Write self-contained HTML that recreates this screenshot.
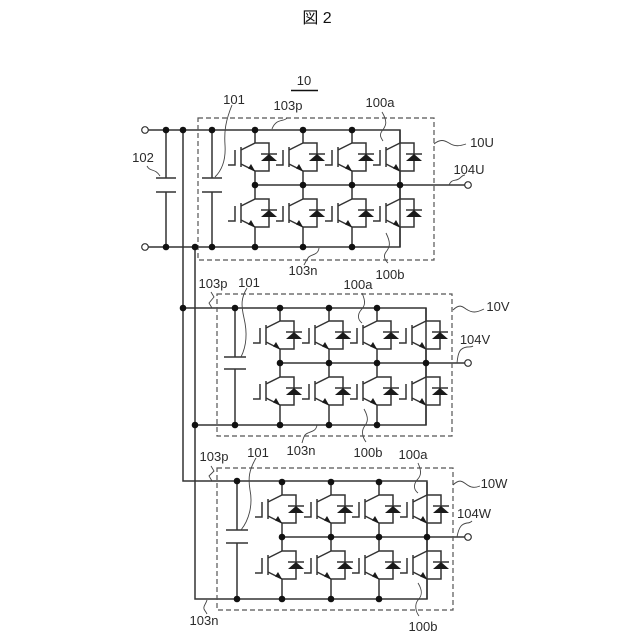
<!DOCTYPE html>
<html><head><meta charset="utf-8"><style>
html,body{margin:0;padding:0;background:#fff}
svg{display:block}
text{font-family:"Liberation Sans","Noto Sans CJK JP",sans-serif;font-size:13px;fill:#2a2a2a;text-anchor:middle}
.w{fill:none;stroke:#333;stroke-width:1.500}
.d{fill:none;stroke:#555;stroke-width:1.200;stroke-dasharray:5 3}
.l{fill:none;stroke:#444;stroke-width:.9}
</style></head><body>
<svg width="640" height="640" viewBox="0 0 640 640" xmlns="http://www.w3.org/2000/svg">
<defs>
<g id="u">
<path class="w" d="M0 -42H14V-14H0M-14 -38V-18M-14 -35L0 -42M-14 -21L0 -14M-27 -20H-20V-35M14 -42V-14M6 -31H22"/>
<path d="M14 -31L22 -24H6Z M0 -14L-7 -16.500L-4 -21Z" fill="#1a1a1a"/>
</g>
<g id="c">
<path class="w" d="M0 -55V-42M0 -14V14M0 42V62"/>
<use href="#u"/><use href="#u" y="56"/>
<circle cy="0" r="3.300" fill="#111"/>
</g>
<g id="t"><circle cy="-55" r="3.300" fill="#111"/><circle cy="62" r="3.300" fill="#111"/></g>
</defs>
<text x="317" y="23" style="font-size:16px;fill:#111">図 2</text>
<text x="304" y="85">10</text>
<path d="M291 90.500H318" stroke="#111" stroke-width="1.500"/>

<!-- Bus lines -->
<path class="w" d="M148 130H400V247H148M166 130V178M166 192V247M156 178H176M156 192H176M212 130V178M212 192V247M202 178H222M202 192H222M255 185H465"/>
<path class="w" d="M183 130V481H427V599H195V247M183 308H426V425H195M235 308V357M235 369V425M224 357H246M224 369H246M280 363H465M237 481V530M237 543V599M226 530H248M226 543H248M282 537H465"/>

<!-- Dashed boxes -->
<rect class="d" x="198" y="118" width="236" height="142"/>
<rect class="d" x="217" y="294" width="235" height="142"/>
<rect class="d" x="217" y="468" width="236" height="142"/>

<!-- Switch columns -->
<use href="#c" x="255" y="185"/><use href="#c" x="303" y="185"/><use href="#c" x="352" y="185"/><use href="#c" x="400" y="185"/>
<use href="#c" x="280" y="363"/><use href="#c" x="329" y="363"/><use href="#c" x="377" y="363"/><use href="#c" x="426" y="363"/>
<use href="#c" x="282" y="537"/><use href="#c" x="331" y="537"/><use href="#c" x="379" y="537"/><use href="#c" x="427" y="537"/>
<use href="#t" x="255" y="185"/><use href="#t" x="303" y="185"/><use href="#t" x="352" y="185"/>
<use href="#t" x="280" y="363"/><use href="#t" x="329" y="363"/><use href="#t" x="377" y="363"/>
<use href="#t" x="282" y="537"/><use href="#t" x="331" y="537"/><use href="#t" x="379" y="537"/>

<!-- Junction dots -->
<g fill="#111">
<circle cx="166" cy="130" r="3.300"/><circle cx="183" cy="130" r="3.300"/><circle cx="212" cy="130" r="3.300"/>
<circle cx="166" cy="247" r="3.300"/><circle cx="195" cy="247" r="3.300"/><circle cx="212" cy="247" r="3.300"/>
<circle cx="183" cy="308" r="3.300"/><circle cx="235" cy="308" r="3.300"/>
<circle cx="195" cy="425" r="3.300"/><circle cx="235" cy="425" r="3.300"/>
<circle cx="237" cy="481" r="3.300"/><circle cx="237" cy="599" r="3.300"/>
</g>

<!-- Terminals -->
<g fill="#fff" stroke="#333" stroke-width="1.200">
<circle cx="145" cy="130" r="3.300"/><circle cx="145" cy="247" r="3.300"/>
<circle cx="468" cy="185" r="3.300"/><circle cx="468" cy="363" r="3.300"/><circle cx="468" cy="537" r="3.300"/>
</g>

<!-- Leaders -->
<path class="l" d="M232 105C226 120 224 130 225 145C226 160 222 170 215 177"/>
<path class="l" d="M147 166C150 172 155 168 160 176"/>
<path class="l" d="M287 118C284 122 276 118 272 129"/>
<path class="l" d="M382 112C388 122 386 126 382 131C379 135 381 138 383 141"/>
<path class="l" d="M434 144C440 139 444 140 449 143C455 147 460 146 466 144"/>
<path class="l" d="M449 185C452 178 456 182 460 178C462 176 464 175 465 175"/>
<path class="l" d="M319 248C318 256 310 254 308 258C306 261 305 263 304 265"/>
<path class="l" d="M386 233C391 243 390 247 386 252C383 256 385 260 388 263"/>
<path class="l" d="M211 292L214 297L209 303L212 308"/>
<path class="l" d="M247 288C241 298 241 305 244 318C248 335 246 347 241 357"/>
<path class="l" d="M317 425C316 433 308 431 305 435C303 438 303 440 302 443"/>
<path class="l" d="M362 293C366 302 365 306 361 310C357 315 358 320 362 323"/>
<path class="l" d="M453 310C459 304 462 306 466 309C472 313 476 313 484 309"/>
<path class="l" d="M457 363C458 352 460 348 467 347C470 347 472 347 473 346"/>
<path class="l" d="M364 409C369 418 368 422 364 427C361 432 363 438 366 442"/>
<path class="l" d="M211 466L214 471L209 476L212 481"/>
<path class="l" d="M256 458C249 470 248 478 250 490C253 505 249 520 241 530"/>
<path class="l" d="M207 600C206 604 203 606 204 609C205 611 206 612 207 614"/>
<path class="l" d="M418 463C422 472 421 476 417 480C413 485 414 490 418 493"/>
<path class="l" d="M418 583C423 591 422 596 418 600C414 605 416 612 419 616"/>
<path class="l" d="M453 485C459 479 462 481 466 484C471 488 475 488 480 486"/>
<path class="l" d="M457 537C459 526 462 524 467 523C470 523 471 522 472 521"/>

<!-- Labels -->
<text x="234" y="104">101</text><text x="143" y="162">102</text><text x="288" y="110">103p</text>
<text x="380" y="107">100a</text><text x="482" y="147">10U</text><text x="469" y="174">104U</text>
<text x="303" y="275">103n</text><text x="390" y="279">100b</text>
<text x="213" y="288">103p</text><text x="249" y="287">101</text><text x="358" y="289">100a</text>
<text x="498" y="311">10V</text><text x="475" y="344">104V</text><text x="301" y="455">103n</text><text x="368" y="457">100b</text>
<text x="214" y="461">103p</text><text x="258" y="457">101</text><text x="413" y="459">100a</text>
<text x="494" y="488">10W</text><text x="474" y="518">104W</text><text x="204" y="625">103n</text><text x="423" y="631">100b</text>
</svg>
</body></html>
